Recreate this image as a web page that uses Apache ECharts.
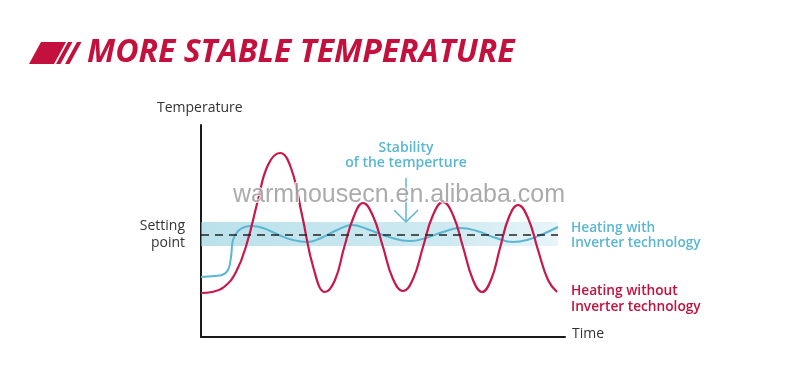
<!DOCTYPE html>
<html>
<head>
<meta charset="utf-8">
<script src="https://cdn.jsdelivr.net/npm/echarts@6/dist/echarts.min.js"></script>
<style>
html,body{margin:0;padding:0;background:#fff;}
#chart{width:800px;height:387px;}
</style>
</head>
<body>
<div id="chart"></div>
<script>
// Time / temperature readings (axis units: time 0-364, temperature 0-212)
var timeRed = [0, 11, 23, 35, 46, 57, 67, 79, 90, 101, 113, 124, 134, 143, 153, 162, 172, 182, 192, 202, 212, 222, 232, 242, 252, 262, 272, 281, 290, 299, 308, 317, 327, 337, 347, 356];
var tempRed = [44, 45, 50, 65, 94, 137, 172, 184, 169, 122, 67, 45, 57, 89, 121, 134, 121, 90, 58, 46, 58, 90, 122, 135, 122, 90, 57, 45, 57, 89, 120, 132, 119, 87, 57, 45];
var timeBlue = [0, 14, 21, 27, 30, 32, 37, 44, 51, 62, 78, 92, 106, 120, 136, 151, 166, 188, 209, 225, 242, 259, 276, 295, 312, 326, 342, 357];
var tempBlue = [60, 61, 62, 67, 80, 97, 106, 110, 111, 109, 102, 97, 95, 99, 107, 112, 108, 100, 96, 99, 105, 109, 106, 99, 95, 97, 103, 110];
var setPoint = 102;
var bandLow = 91;
var bandHigh = 115;
var bandEnd = 357;

var titleText = 'MORE STABLE TEMPERATURE';
var yName = 'Temperature';
var xName = 'Time';
var setLabel = ['Setting', 'point'];
var stabilityLabel = ['Stability', 'of the temperture'];
var blueName = ['Heating with', 'Inverter technology'];
var redName = ['Heating without', 'Inverter technology'];
var watermark = 'warmhousecn.en.alibaba.com';

var RED = '#c4103c';
var REDLINE = '#c8174a';
var BLUE = '#5bb6d2';
var FONT = '"Open Sans", "Noto Sans", sans-serif';

function pairs(xs, ys) { return xs.map(function (x, i) { return [x, ys[i]]; }); }

var chart = echarts.init(document.getElementById('chart'), null, {renderer: 'canvas'});

function txt(x, y, text, opt) {
  return {
    type: 'text', x: x, y: y, z: 100,
    style: Object.assign({
      text: text, fill: '#333', font: '14px ' + FONT,
      textAlign: 'left', textVerticalAlign: 'middle'
    }, opt || {})
  };
}

var option = {
  animation: false,
  backgroundColor: '#fff',
  grid: {left: 201, top: 125, width: 364, height: 212, containLabel: false},
  xAxis: {
    type: 'value', min: 0, max: 364,
    axisLine: {show: true, lineStyle: {color: '#1a1a1a', width: 2}},
    axisTick: {show: false}, axisLabel: {show: false}, splitLine: {show: false}
  },
  yAxis: {
    type: 'value', min: 0, max: 212,
    axisLine: {show: true, lineStyle: {color: '#1a1a1a', width: 2}},
    axisTick: {show: false}, axisLabel: {show: false}, splitLine: {show: false}
  },
  series: [
    {
      type: 'line', name: 'with', z: 3,
      data: pairs(timeBlue, tempBlue),
      smooth: 0.45, showSymbol: false,
      lineStyle: {color: BLUE, width: 2},
      markArea: {
        silent: true, z: 1,
        itemStyle: {
          color: new echarts.graphic.LinearGradient(0, 0, 1, 0, [
            {offset: 0, color: 'rgba(140,205,222,0.6)'},
            {offset: 0.7, color: 'rgba(140,205,222,0.42)'},
            {offset: 1, color: 'rgba(140,205,222,0.2)'}
          ])
        },
        data: [[{coord: [0, bandLow]}, {coord: [bandEnd, bandHigh]}]]
      },
      markLine: {
        silent: true, symbol: ['none', 'none'], label: {show: false},
        lineStyle: {color: '#222', width: 1.5, type: [8, 6]},
        data: [[{coord: [0, setPoint]}, {coord: [bandEnd, setPoint]}]]
      }
    },
    {
      type: 'line', name: 'without', z: 4,
      data: pairs(timeRed, tempRed),
      smooth: 0.45, showSymbol: false,
      lineStyle: {color: REDLINE, width: 2.2}
    }
  ],
  graphic: [
    // title mark
    {type: 'polygon', z: 100, shape: {points: [[41, 42], [66, 42], [54, 64], [29, 64]]}, style: {fill: RED}},
    {type: 'polygon', z: 100, shape: {points: [[68, 42], [72.5, 42], [60.5, 64], [56, 64]]}, style: {fill: RED}},
    {type: 'polygon', z: 100, shape: {points: [[77, 42], [81.5, 42], [69.5, 64], [65, 64]]}, style: {fill: RED}},
    txt(87, 53, titleText, {fill: RED, font: 'italic 700 32px ' + FONT}),
    txt(157, 108, yName),
    txt(185, 226, setLabel[0], {textAlign: 'right'}),
    txt(185, 243, setLabel[1], {textAlign: 'right'}),
    txt(572, 334, xName),
    txt(406, 148, stabilityLabel[0], {fill: BLUE, textAlign: 'center', font: '600 14px ' + FONT}),
    txt(406, 163, stabilityLabel[1], {fill: BLUE, textAlign: 'center', font: '600 14px ' + FONT}),
    txt(571, 228, blueName[0], {fill: BLUE, font: '600 13.7px ' + FONT}),
    txt(571, 243, blueName[1], {fill: BLUE, font: '600 13.7px ' + FONT}),
    txt(571, 291, redName[0], {fill: RED, font: '600 13.7px ' + FONT}),
    txt(571, 307, redName[1], {fill: RED, font: '600 13.7px ' + FONT}),
    // arrow
    {type: 'line', z: 100, shape: {x1: 406, y1: 178, x2: 406, y2: 222}, style: {stroke: BLUE, lineWidth: 1.5}},
    {type: 'polyline', z: 100, shape: {points: [[394, 210], [406, 222], [418, 210]]}, style: {stroke: BLUE, lineWidth: 1.5, fill: null}},
    // watermark
    txt(399, 195, watermark, {textAlign: 'center', font: '25px "Liberation Sans", Arial, sans-serif', fill: 'rgba(115,115,115,0.6)', stroke: 'rgba(255,255,255,0.8)', lineWidth: 2})
  ]
};
chart.setOption(option);
</script>
</body>
</html>
